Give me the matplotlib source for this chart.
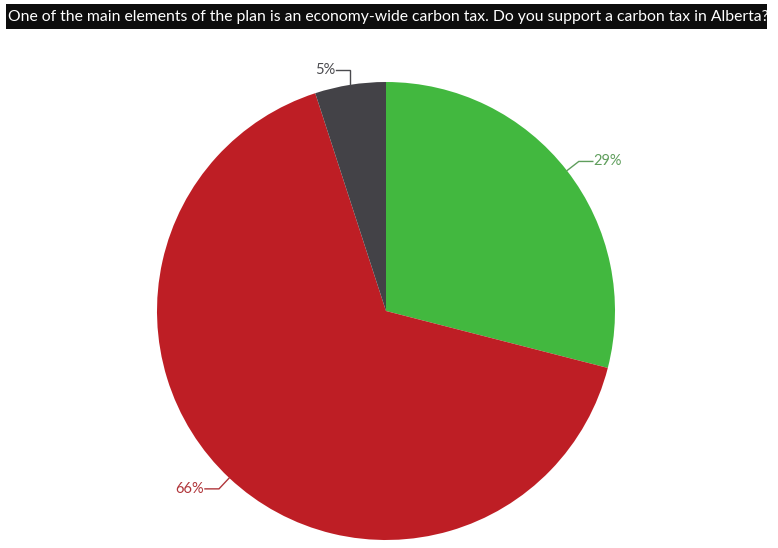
import numpy as np
import matplotlib
matplotlib.use('Agg')
import matplotlib.pyplot as plt

title = 'One of the main elements of the plan is an economy-wide carbon tax. Do you support a carbon tax in Alberta?'
labels = ['29%', '66%', '5%']
shares = [29, 66, 5]
colors = ['#42b83f', '#be1e25', '#434247']
label_colors = ['#5f9e5c', '#b0353a', '#4a4a4e']

W, H = 778, 548
fig = plt.figure(figsize=(W / 100, H / 100), dpi=100)
ax = fig.add_axes([0, 0, 1, 1])

cx, cy, r = 386, H - 311, 229
wedges, _ = ax.pie(shares, colors=colors, startangle=90, counterclock=False,
                   center=(cx, cy), radius=r, frame=True,
                   wedgeprops=dict(linewidth=0))
ax.set_xlim(0, W)
ax.set_ylim(0, H)
ax.axis('off')
ax.set_aspect('auto')

# leader lines + labels
for w, lab, c in zip(wedges, labels, label_colors):
    mid = np.deg2rad((w.theta1 + w.theta2) / 2)
    ux, uy = np.cos(mid), np.sin(mid)
    x0, y0 = cx + r * ux, cy + r * uy
    x1, y1 = cx + (r + 15) * ux, cy + (r + 15) * uy
    side = 1 if ux >= 0 else -1
    if abs(ux) < 0.3:
        # near the top, the connector goes straight up first
        x1 = x0
    x2 = x1 + side * 14
    ax.plot([x0, x1, x2], [y0, y1, y1], color=c, lw=1, solid_joinstyle='miter')
    ax.text(x2 + side * 1, y1, lab, color=c, fontsize=10.5, family='Lato',
            ha='left' if side > 0 else 'right', va='center')

# title bar
ax.add_patch(plt.Rectangle((6, H - 29), 761, 25, color='#0d0d0d', lw=0))
t = ax.text(8, H - 16.5, title, color='white', fontsize=11, family='Lato',
            ha='left', va='center')
fig.canvas.draw()
ext = t.get_window_extent()
t.set_fontsize(11 * 762 / ext.width)

fig.savefig('out.png', dpi=100)
